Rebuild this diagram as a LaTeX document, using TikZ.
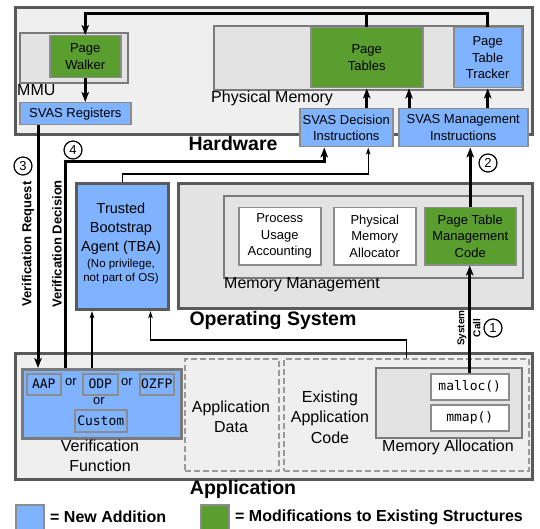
\documentclass[tikz,border=0pt]{standalone}
\usepackage{fontspec}
\setmainfont{Liberation Sans}
\setmonofont{DejaVu Sans Mono}
\usetikzlibrary{arrows.meta}

\definecolor{newblue}{HTML}{80B3FF}
\definecolor{modgreen}{HTML}{5A9E2F}
\definecolor{layerfill}{HTML}{EFEFEF}
\definecolor{groupfill}{HTML}{E3E3E3}
\definecolor{layerline}{HTML}{5A5A5A}
\definecolor{groupline}{HTML}{7A7A7A}
\definecolor{boxline}{HTML}{8C8C8C}
\definecolor{dashline}{HTML}{9A9A9A}

\tikzset{
  wh/.style 2 args={minimum width=#1pt, minimum height=#2pt},
  layer/.style={draw=layerline, line width=3pt, fill=layerfill, anchor=north west, inner sep=0pt},
  group/.style={draw=groupline, line width=2pt, fill=groupfill, anchor=north west, inner sep=0pt},
  newbox/.style={draw=boxline, line width=1.5pt, fill=newblue, anchor=north west, inner sep=0pt,
    align=center, font=\fontsize{13}{16.5}\selectfont},
  modbox/.style={newbox, fill=modgreen},
  plainbox/.style={newbox, fill=white},
  codebox/.style={font=\ttfamily\fontsize{13}{16}\selectfont},
  dashbox/.style={draw=dashline, line width=2pt, dash pattern=on 6pt off 3pt, anchor=north west, inner sep=0pt},
  grouptext/.style={inner sep=0pt, align=center, font=\fontsize{16}{20.5}\selectfont},
  layertext/.style={inner sep=0pt, font=\bfseries\fontsize{19.5}{23}\selectfont},
  sidetext/.style={inner sep=0pt, rotate=90, font=\bfseries\fontsize{13}{16}\selectfont},
  ortext/.style={inner sep=0pt, font=\fontsize{13}{16}\selectfont},
  stepnum/.style={circle, draw, line width=1.2pt, fill=white, minimum size=18pt, inner sep=0pt,
    font=\fontsize{13}{13}\selectfont},
  bigline/.style={line width=3pt},
  bigarrow/.style={line width=3pt, -{Stealth[length=10pt,width=7.5pt,inset=2.5pt]}},
  smallarrow/.style={line width=1.3pt, -{Stealth[length=7pt,width=4.5pt,inset=1.5pt]}}
}

\begin{document}
\begin{tikzpicture}[x=1pt, y=-1pt]
  \useasboundingbox (0,0) rectangle (540,529);

  % hardware
  \node[layer, wh={517}{127}] (hw) at (14,6) {};
  \node[group, wh={108}{50}] (mmu) at (19,32) {};
  \node[modbox, wh={71}{42}] (walker) at (49,35) {Page\\Walker};
  \node[grouptext, anchor=west] (mmutext) at (17,90) {MMU};
  \node[newbox, wh={111}{22}] (registers) at (19,102) {SVAS Registers};
  \node[group, wh={309}{64}] (physmem) at (213,25) {};
  \node[modbox, wh={112}{60}] (tables) at (310,27) {Page\\Tables};
  \node[newbox, wh={68}{60}] (tracker) at (453,27) {Page\\Table\\Tracker};
  \node[grouptext, anchor=west] (physmemtext) at (211,98) {Physical Memory};
  \node[newbox, wh={93}{38}] (decision) at (299,108) {SVAS Decision\\Instructions};
  \node[newbox, wh={129}{38}] (mgmt) at (398,108) {SVAS Management\\Instructions};
  \node[layertext] (hwtext) at (233,144) {Hardware};

  % operating system
  \node[newbox, draw=layerline, line width=3pt, wh={92}{126}] (tba) at (75,182) {};
  \node[inner sep=0pt, align=center, font=\fontsize{14.5}{19}\selectfont] (tbaname) at (121,229) {Trusted\\Bootstrap\\Agent (TBA)};
  \node[inner sep=0pt, align=center, font=\fontsize{11.5}{14}\selectfont] (tbanote) at (121,272) {(No privilege,\\not part of OS)};
  \node[layer, fill=layerfill!95!black, wh={354}{125}] (os) at (177,182) {};
  \node[group, wh={299}{82}] (memmgmt) at (223,195) {};
  \node[plainbox, wh={82}{57}] (usage) at (238,207) {Process\\Usage\\Accounting};
  \node[plainbox, wh={82}{57}] (allocator) at (333,207) {Physical\\Memory\\Allocator};
  \node[modbox, wh={91}{57}] (ptcode) at (424,207) {Page Table\\Management\\Code};
  \node[grouptext, anchor=west] (memmgmttext) at (224,285) {Memory Management};
  \node[layertext] (ostext) at (273,320) {Operating System};

  % application
  \node[layer, wh={517}{126}] (app) at (14,352) {};
  \node[newbox, draw=groupline, line width=2.5pt, wh={159}{69}] (vfunc) at (21,368) {};
  \node[newbox, codebox, wh={34}{21}] (aap) at (26,373) {AAP};
  \node[ortext] (or1) at (71,382) {or};
  \node[newbox, codebox, wh={35}{21}] (odp) at (82,373) {ODP};
  \node[ortext] (or2) at (127,382) {or};
  \node[newbox, codebox, wh={34}{21}] (ozfp) at (139,373) {OZFP};
  \node[ortext] (or3) at (99,401) {or};
  \node[newbox, codebox, wh={52}{22}] (custom) at (74,409) {Custom};
  \node[grouptext] (vfunctext) at (100,456) {Verification\\Function};
  \node[dashbox, wh={94}{112}] (appdata) at (184,358) {};
  \node[grouptext] (appdatatext) at (231,417) {Application\\Data};
  \node[dashbox, wh={245}{112}] (existcode) at (283,358) {};
  \node[grouptext] (existtext) at (330,417) {Existing\\Application\\Code};
  \node[group, wh={146}{70}] (memalloc) at (375,367) {};
  \node[plainbox, codebox, wh={78}{26}] (malloc) at (430,373) {malloc()};
  \node[plainbox, codebox, wh={78}{26}] (mmap) at (430,404) {mmap()};
  \node[grouptext] (memalloctext) at (448,447) {Memory Allocation};
  \node[layertext] (apptext) at (243,489) {Application};

  % legend
  \node[newbox, wh={28}{28}] (keynew) at (15,504) {};
  \node[inner sep=0pt, anchor=west, font=\bfseries\fontsize{16}{20}\selectfont] (keynewtext) at (50,517) {= New Addition};
  \node[modbox, wh={28}{28}] (keymod) at (200,504) {};
  \node[inner sep=0pt, anchor=west, font=\bfseries\fontsize{16}{20}\selectfont] (keymodtext) at (235,517) {= Modifications to Existing Structures};

  % connectors in hardware
  \coordinate (rail) at (0,14);
  \draw[bigline] (tables.north) -- (tables.north |- rail);
  \draw[bigarrow] (tracker.north) -- (tracker.north |- rail) -| (walker.north);
  \draw[bigarrow] (walker.south) -- (walker.south |- registers.north);
  \draw[bigarrow] (tables.south |- decision.north) -- (tables.south);
  \coordinate (mgmtleft) at ([xshift=11pt]mgmt.north west);
  \draw[bigarrow] (mgmtleft) -- (mgmtleft |- tables.south);
  \draw[bigarrow] (tracker.south |- mgmt.north) -- (tracker.south);

  % system call path
  \draw[bigarrow] (malloc.north) -- (malloc.north |- ptcode.south);
  \draw[bigarrow] (ptcode.north) -- (ptcode.north |- mgmt.south);
  \node[sidetext, align=center, font=\bfseries\fontsize{10}{16}\selectfont] (syscall) at (469,328) {System\\Call};
  \node[stepnum] (step1) at (493,328) {1};
  \node[stepnum] (step2) at (488,163) {2};

  % verification path
  \coordinate (request) at ([xshift=19pt]registers.south west);
  \draw[bigarrow] (request) -- (request |- vfunc.north);
  \coordinate (answer) at ([xshift=44pt]vfunc.north west);
  \draw[bigarrow] (answer) -- ++(0,-206) -| ([xshift=-22pt]decision.south);
  \draw[smallarrow] (tba.north) -- ++(0,-8) -| ([xshift=22pt]decision.south);
  \coordinate (tbain) at ([xshift=71pt]vfunc.north west);
  \draw[smallarrow] (tbain) -- (tbain |- tba.south);
  \draw[smallarrow] (existcode.north) -- ++(0,-18) -| ([xshift=28pt]tba.south);
  \node[sidetext] (requesttext) at (28,244) {Verification Request};
  \node[sidetext] (answertext) at (57,244) {Verification Decision};
  \node[stepnum] (step3) at (23,166) {3};
  \node[stepnum] (step4) at (73,150) {4};
\end{tikzpicture}
\end{document}
